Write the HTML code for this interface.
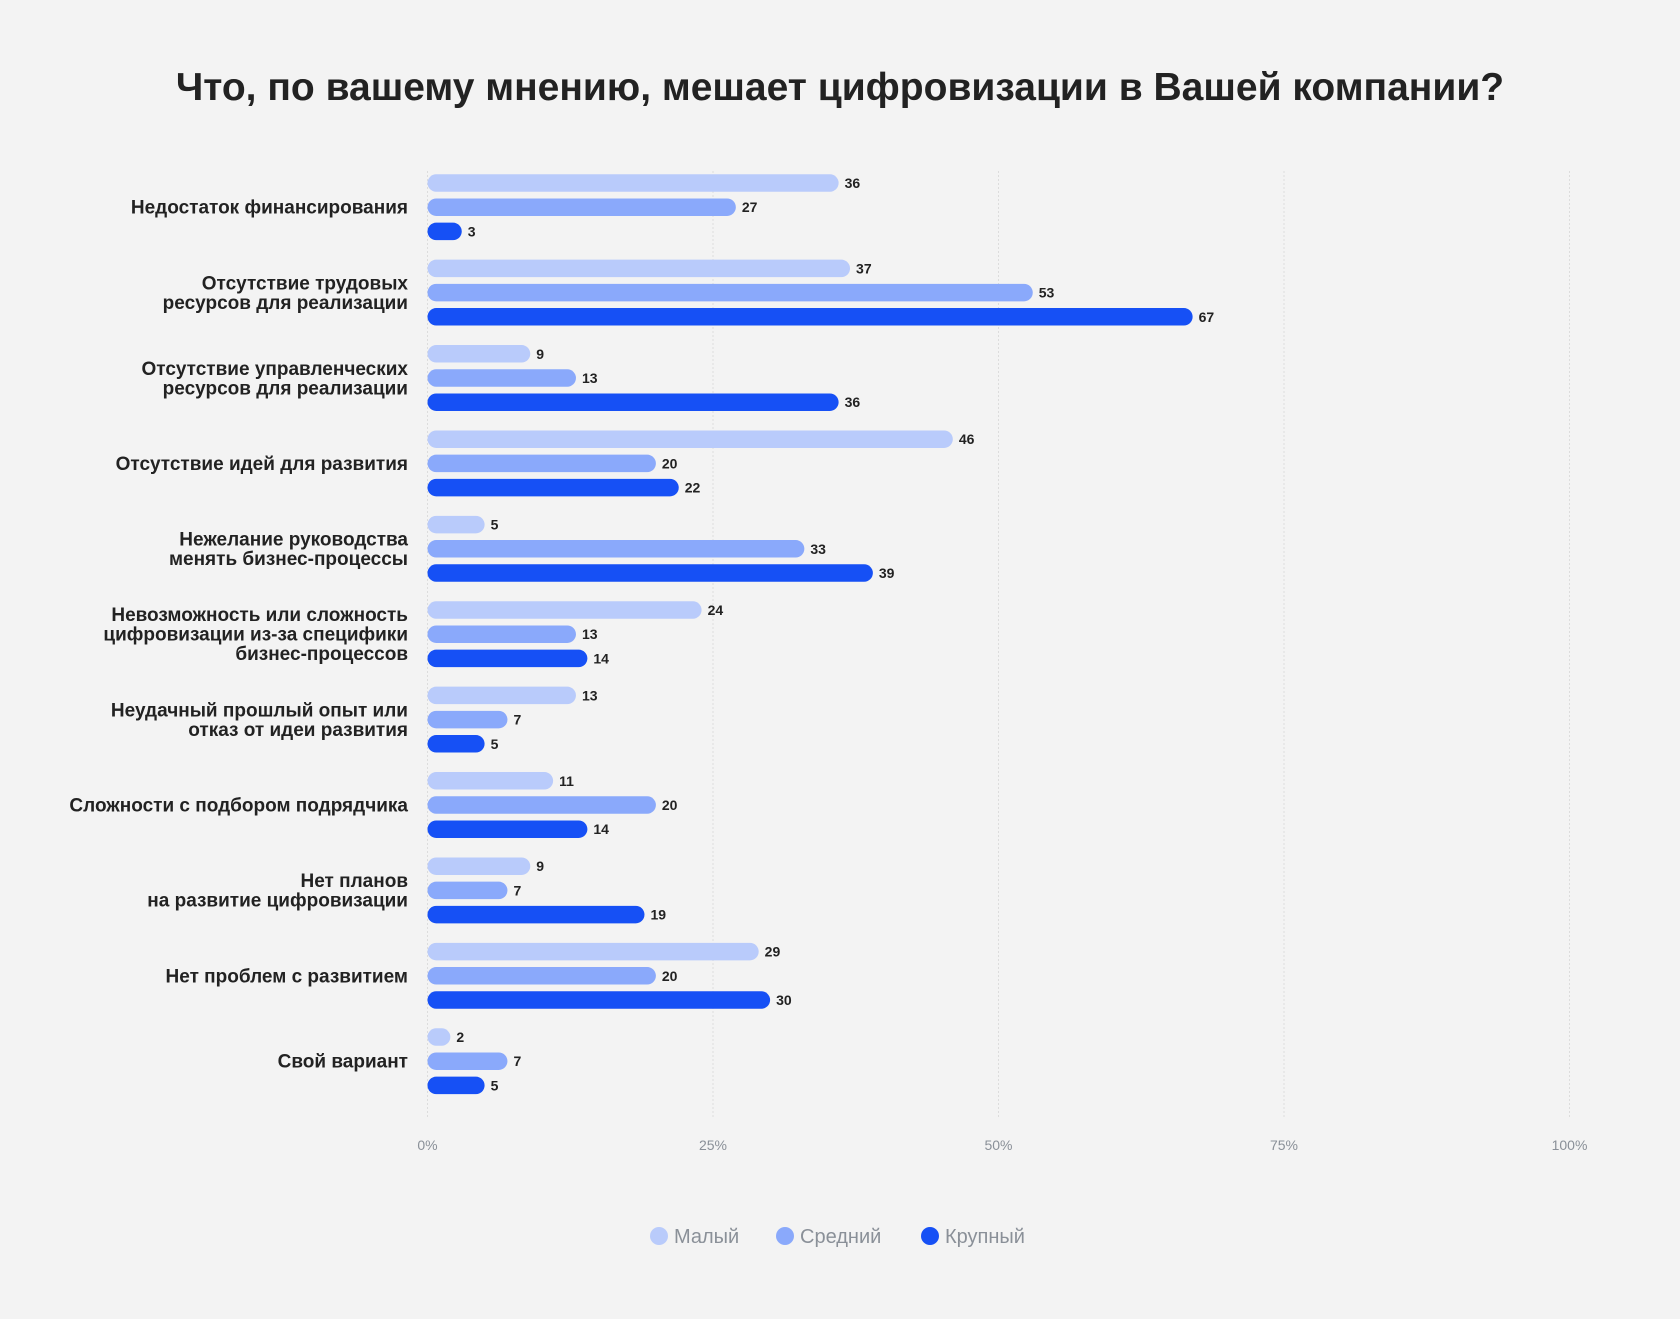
<!DOCTYPE html>
<html><head><meta charset="utf-8">
<style>
html,body{margin:0;padding:0;background:#f3f3f3;}
svg{display:block;font-family:"Liberation Sans","DejaVu Sans",sans-serif;}
</style></head>
<body>
<svg id="chart" width="1680" height="1319" viewBox="0 0 1680 1319">
<rect width="1680" height="1319" fill="#f3f3f3"/>
<text x="840" y="100" text-anchor="middle" font-size="39" font-weight="bold" fill="#222">Что, по вашему мнению, мешает цифровизации в Вашей компании?</text>
<g id="grid"></g><g id="bars"></g><g id="legend"></g>
</svg>
<script>
const categories = [
 ["Недостаток финансирования"],
 ["Отсутствие трудовых","ресурсов для реализации"],
 ["Отсутствие управленческих","ресурсов для реализации"],
 ["Отсутствие идей для развития"],
 ["Нежелание руководства","менять бизнес-процессы"],
 ["Невозможность или сложность","цифровизации из-за специфики","бизнес-процессов"],
 ["Неудачный прошлый опыт или","отказ от идеи развития"],
 ["Сложности с подбором подрядчика"],
 ["Нет планов","на развитие цифровизации"],
 ["Нет проблем с развитием"],
 ["Свой вариант"]
];
const small = [36,37,9,46,5,24,13,11,9,29,2];
const medium = [27,53,13,20,33,13,7,20,7,20,7];
const large = [3,67,36,22,39,14,5,14,19,30,5];
const seriesNames = ["Малый","Средний","Крупный"];
const tickValues = [0,25,50,75,100];
const tickLabels = ["0%","25%","50%","75%","100%"];

const colors = ["#b9cbfb","#8aa9fb","#1650f5"];
const NS = "http://www.w3.org/2000/svg";
const x0 = 427.5, x1 = 1569.5;
const xScale = v => x0 + (x1 - x0) * v / 100;
const groupTop = 183, groupStep = 85.4, barStep = 24.2, barH = 17.5;
function mk(tag, attrs, parent){const e=document.createElementNS(NS,tag);for(const k in attrs)e.setAttribute(k,attrs[k]);parent.appendChild(e);return e;}

const grid = document.getElementById('grid');
tickValues.forEach((t,i)=>{
  const l = mk('line',{x1:xScale(t),x2:xScale(t),y1:171,y2:1117,stroke:'#dcdcdc','stroke-width':1,'stroke-dasharray':'2,2'},grid);
  
  
  const tx = mk('text',{x:xScale(t),y:1150,'text-anchor':'middle','font-size':14,fill:'#8a9098'},grid);
  tx.textContent = tickLabels[i];
  
  
});

const bars = document.getElementById('bars');
const series = [small, medium, large];
categories.forEach((cat,ci)=>{
  const gy = groupTop + ci*groupStep;
  const cy = gy + barStep;
  const lh = 19.5;
  const startY = cy - (cat.length-1)*lh/2 + 6.5;
  const lab = mk('text',{x:408,'text-anchor':'end','font-size':19,'font-weight':'bold',fill:'#222'},bars);
  
  
  cat.forEach((line,li)=>{const ts=mk('tspan',{x:408,y:startY+li*lh},lab);ts.textContent=line;});
  series.forEach((s,si)=>{
    const v = s[ci];
    const y = gy + si*barStep - barH/2;
    const w = Math.max(xScale(v)-x0, barH);
    const r = mk('rect',{x:x0,y:y,width:w,height:barH,rx:barH/2,fill:colors[si]},bars);
    
    
    const t = mk('text',{x:x0+w+6,y:y+barH/2+5,'font-size':14,'font-weight':'bold',fill:'#222'},bars);
    t.textContent = v;
    
    
  });
});

const legend = document.getElementById('legend');
const lx = [659,785,930];
seriesNames.forEach((n,i)=>{
  const c = mk('circle',{cx:lx[i],cy:1236,r:9,fill:colors[i]},legend);
  
  
  const t = mk('text',{x:lx[i]+15,y:1243,'font-size':20,fill:'#8a9098'},legend);
  t.textContent = n;
  
  
});
</script>
</body></html>
